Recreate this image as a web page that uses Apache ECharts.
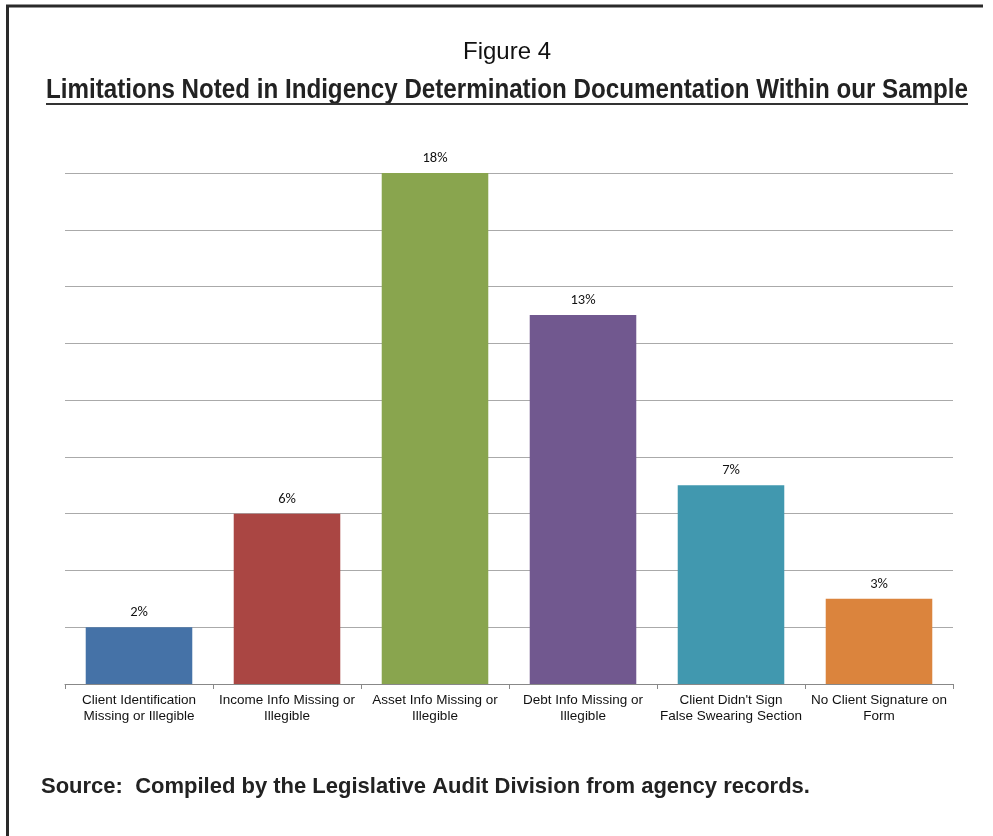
<!DOCTYPE html>
<html>
<head>
<meta charset="utf-8">
<script src="https://cdn.jsdelivr.net/npm/echarts@6/dist/echarts.min.js"></script>
<style>html,body{margin:0;padding:0;background:#fff}#c{width:993px;height:836px}</style>
</head>
<body>
<div id="c"></div>
<script>
const categories = [
  "Client Identification\nMissing or Illegible",
  "Income Info Missing or\nIllegible",
  "Asset Info Missing or\nIllegible",
  "Debt Info Missing or\nIllegible",
  "Client Didn't Sign\nFalse Swearing Section",
  "No Client Signature on\nForm"
];
const values = [2, 6, 18, 13, 7, 3];
const colors = ["#4572A7", "#AA4643", "#89A54E", "#71588F", "#4198AF", "#DB843D"];
const titleText = "Figure 4";
const subtitleText = "Limitations Noted in Indigency Determination Documentation Within our Sample";
const sourceText = "Source:  Compiled by the Legislative Audit Division from agency records.";

const subFont = 'bold 28px "Liberation Sans", Arial, sans-serif';
const mctx = document.createElement('canvas').getContext('2d');
mctx.font = subFont;
const subW = mctx.measureText(subtitleText).width;
const subScale = 922 / subW;

const chart = echarts.init(document.getElementById('c'), null, {renderer: 'canvas'});
chart.setOption({
  animation: false,
  backgroundColor: '#fff',
  grid: {left: 65, right: 40, top: 173, bottom: 152, containLabel: false},
  xAxis: {
    type: 'category',
    data: categories,
    axisLine: {show: true, lineStyle: {color: '#888', width: 1}},
    axisTick: {show: true, length: 5, lineStyle: {color: '#888'}},
    axisLabel: {color: '#111', fontFamily: 'Liberation Sans, Arial, sans-serif', fontSize: 13.5, lineHeight: 16, margin: 8, interval: 0}
  },
  yAxis: {
    type: 'value', min: 0, max: 18, interval: 2,
    axisLabel: {show: false}, axisLine: {show: false}, axisTick: {show: false},
    splitLine: {show: true, lineStyle: {color: '#aaa', width: 1}}
  },
  series: [{
    type: 'bar',
    data: values.map((v, i) => ({value: v, itemStyle: {color: colors[i]}})),
    barCategoryGap: '28%',
    label: {show: true, position: 'top', distance: 7, formatter: p => p.value + '%', color: '#111', fontFamily: 'Carlito, Liberation Sans, Arial, sans-serif', fontSize: 14.5}
  }],
  graphic: [
    {type: 'line', shape: {x1: 6, y1: 6, x2: 983, y2: 6}, style: {stroke: '#2a2a2a', lineWidth: 3}},
    {type: 'line', shape: {x1: 7.5, y1: 5, x2: 7.5, y2: 836}, style: {stroke: '#2a2a2a', lineWidth: 3}},
    {type: 'text', x: 507, y: 52, style: {text: titleText, textAlign: 'center', textVerticalAlign: 'middle', font: '24px "Liberation Sans", Arial, sans-serif', fill: '#111'}},
    {type: 'text', x: 507, y: 90, scaleX: subScale, style: {text: subtitleText, textAlign: 'center', textVerticalAlign: 'middle', font: subFont, fill: '#222'}},
    {type: 'line', shape: {x1: 46, y1: 104, x2: 968, y2: 104}, style: {stroke: '#333', lineWidth: 2}},
    {type: 'text', x: 41, y: 787, style: {text: sourceText, textAlign: 'left', textVerticalAlign: 'middle', font: 'bold 22px "Liberation Sans", Arial, sans-serif', fill: '#222'}}
  ]
});
</script>
</body>
</html>
